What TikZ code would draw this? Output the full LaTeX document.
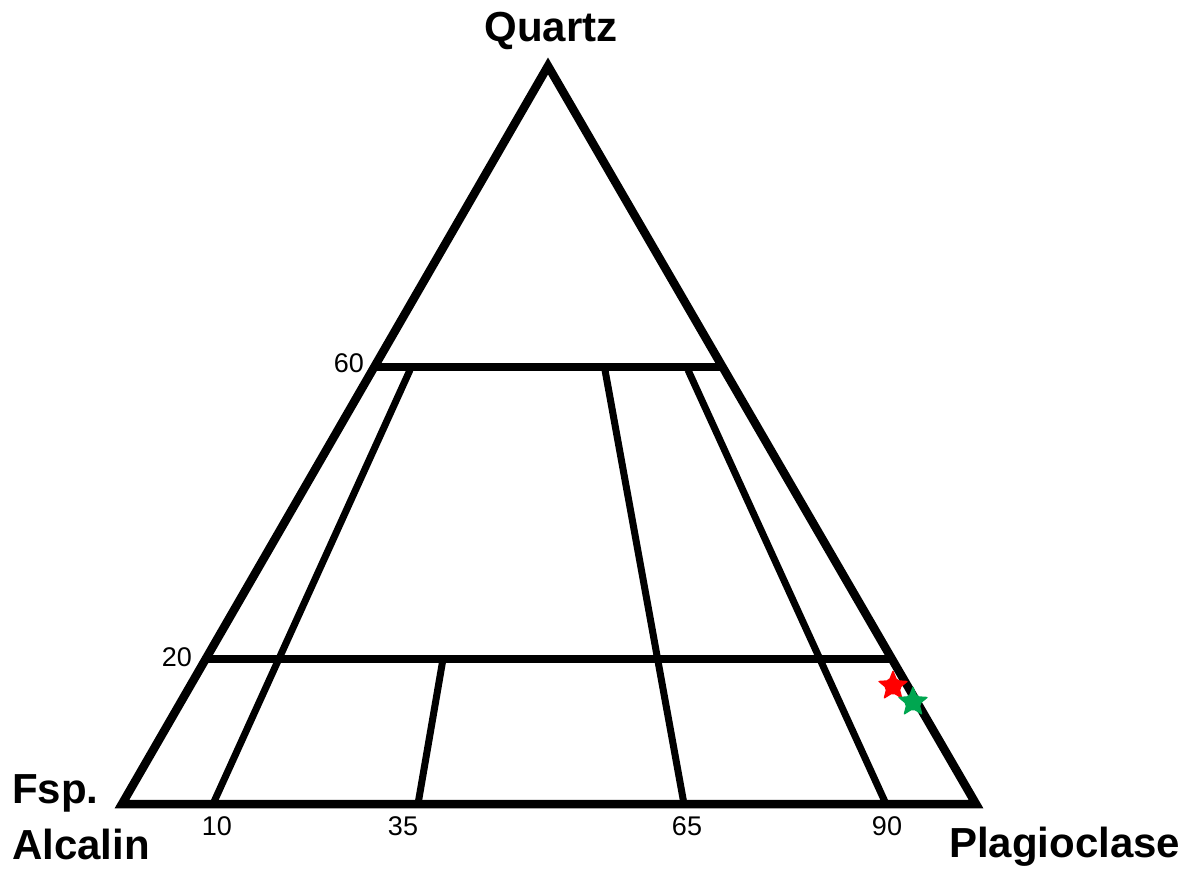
\documentclass[tikz,border=0pt]{standalone}
\usepackage{fontspec}
\setmainfont{Liberation Sans}
\usetikzlibrary{shapes.geometric}
\definecolor{stargreen}{RGB}{0,166,80}
\tikzset{
  outer/.style={line width=8.5pt, line join=miter},
  inner/.style={line width=7pt},
  vlabel/.style={font=\fontsize{42}{42}\selectfont\bfseries, inner sep=0pt},
  num/.style={font=\fontsize{27}{27}\selectfont, inner sep=0pt},
  mystar/.style={star, star points=5, star point ratio=2.3, minimum size=33pt, inner sep=0pt, rounded corners=2pt, draw=none}
}
\begin{document}
\begin{tikzpicture}[x=1pt,y=-1pt]
\useasboundingbox (0,0) rectangle (1204,869);
% vertices
\coordinate (Q) at (548,66);
\coordinate (A) at (122,804);
\coordinate (P) at (976,804);
% horizontal lines
\coordinate (s60) at (372,367);
\coordinate (e60) at (722,367);
\coordinate (s20) at (204,659);
\coordinate (e20) at (894,659);
% inner line points
\coordinate (t10) at (410,370);
\coordinate (b10) at (213,804);
\coordinate (t35) at (443,659);
\coordinate (b35) at (418,804);
\coordinate (t65) at (605,370);
\coordinate (b65) at (684,804);
\coordinate (t90) at (688,370);
\coordinate (b90) at (886,804);

\draw[outer] (Q) -- (A) -- (P) -- cycle;
\draw[outer] (s60) -- (e60);
\draw[outer] (s20) -- (e20);
\draw[inner] (t10) -- (b10);
\draw[inner] (t35) -- (b35);
\draw[inner] (t65) -- (b65);
\draw[inner] (t90) -- (b90);

% labels
\node[vlabel, anchor=base] (lq) at (551,42) {Quartz};
\node[vlabel, anchor=base west] (lf) at (12,803) {Fsp.};
\node[vlabel, anchor=base west] (la) at (12,859) {Alcalin};
\node[vlabel, anchor=base west] (lp) at (949,857) {Plagioclase};

\node[num, anchor=base east] (n60) at (364,372) {60};
\node[num, anchor=base east] (n20) at (192,666) {20};
\node[num, anchor=base] (n10) at (217,835) {10};
\node[num, anchor=base] (n35) at (403,835) {35};
\node[num, anchor=base] (n65) at (687,835) {65};
\node[num, anchor=base] (n90) at (887,835) {90};

% samples
\node[mystar, fill=red] (s1) at (893,686) {};
\node[mystar, fill=stargreen] (s2) at (913,702) {};
\end{tikzpicture}
\end{document}
